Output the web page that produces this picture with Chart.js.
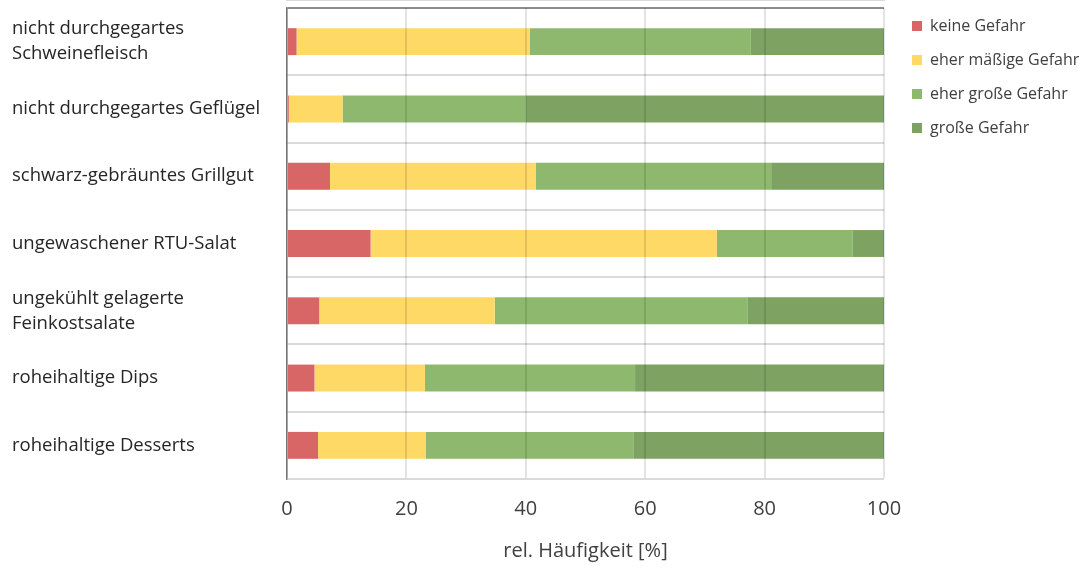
<!DOCTYPE html>
<html>
<head>
<meta charset="utf-8">
<script src="https://cdn.jsdelivr.net/npm/chart.js@4.4.1/dist/chart.umd.min.js"></script>
<style>
html,body{margin:0;padding:0;background:#fff;}
#wrap{width:1080px;height:576px;}
</style>
</head>
<body>
<div id="wrap"><canvas id="c" width="1080" height="576"></canvas></div>
<script>
const categories = [
  ["nicht durchgegartes", "Schweinefleisch"],
  "nicht durchgegartes Geflügel",
  "schwarz-gebräuntes Grillgut",
  "ungewaschener RTU-Salat",
  ["ungekühlt gelagerte", "Feinkostsalate"],
  "roheihaltige Dips",
  "roheihaltige Desserts"
];
const seriesNames = ["keine Gefahr", "eher mäßige Gefahr", "eher große Gefahr", "große Gefahr"];
const keineGefahr     = [1.6, 0.3, 7.2, 14.0, 5.4, 4.6, 5.2];
const eherMaessig     = [39.1, 9.0, 34.5, 58.0, 29.4, 18.5, 18.0];
const eherGross       = [37.0, 30.7, 39.4, 22.7, 42.4, 35.2, 34.8];
const grosseGefahr    = [22.3, 60.0, 18.9, 5.3, 22.8, 41.7, 42.0];
const xTicks = [0, 20, 40, 60, 80, 100];
const xTitle = "rel. Häufigkeit [%]";

const colors = ["#d96666", "#ffd966", "#8db86e", "#7ea262"];
const FONT = "'Open Sans', 'DejaVu Sans', sans-serif";

const layoutFix = {
  id: 'layoutFix',
  afterLayout(chart) {
    const lg = chart.legend;
    if (lg) {
      lg.left += 10; lg.right += 10;
      lg.top -= 8; lg.bottom -= 8;
    }
  }
};

new Chart(document.getElementById('c'), {
  type: 'bar',
  data: {
    labels: categories,
    datasets: [keineGefahr, eherMaessig, eherGross, grosseGefahr].map((d, i) => ({
      label: seriesNames[i],
      data: d,
      backgroundColor: colors[i],
      borderWidth: 0,
      categoryPercentage: 0.8,
      barPercentage: 0.5
    }))
  },
  options: {
    indexAxis: 'y',
    responsive: false,
    animation: false,
    devicePixelRatio: 1,
    layout: { padding: { left: 12, top: 8, right: 0, bottom: 8 } },
    plugins: {
      legend: {
        position: 'right',
        align: 'start',
        labels: {
          boxWidth: 10, boxHeight: 10, padding: 18,
          color: '#404040',
          font: { family: FONT, size: 16 }
        }
      },
      tooltip: { enabled: false }
    },
    scales: {
      x: {
        stacked: true,
        min: 0, max: 100,
        afterBuildTicks(scale) { scale.ticks = xTicks.map(v => ({ value: v })); },
        afterFit(scale) { scale.paddingRight = 196; },
        ticks: {
          padding: 18,
          color: '#404040',
          font: { family: FONT, size: 20 }
        },
        grid: {
          color: 'rgba(0,0,0,0.11)',
          lineWidth: 2,
          drawTicks: false,
          z: 1
        },
        border: { display: true, color: '#d9d9d9', width: 2 },
        title: {
          display: true,
          text: xTitle,
          color: '#404040',
          font: { family: FONT, size: 20 },
          padding: { top: 0, bottom: 5 }
        }
      },
      y: {
        stacked: true,
        afterFit(scale) { scale.width = 275; scale.paddingTop = 0; scale.paddingBottom = 0; },
        ticks: {
          crossAlign: 'far',
          color: '#262626',
          font: { family: FONT, size: 18.5, lineHeight: 1.35 }
        },
        grid: {
          color: (ctx) => ctx.index === 0 ? '#8c8c8c' : '#dadada',
          lineWidth: 2,
          drawTicks: false
        },
        border: { display: true, color: '#7f7f7f', width: 1.5 }
      }
    }
  },
  plugins: [layoutFix]
});
</script>
</body>
</html>
